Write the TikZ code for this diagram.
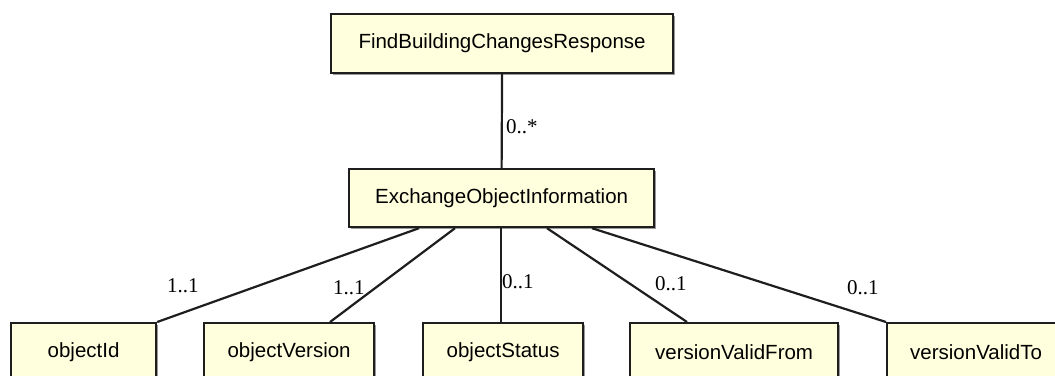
\documentclass[tikz,border=0pt]{standalone}
\usepackage{fontspec}
\setmainfont{Liberation Serif}
\newfontfamily\boxfont{Liberation Sans}
\usetikzlibrary{shadows}
\definecolor{boxfill}{RGB}{255,255,221}
\definecolor{boxline}{RGB}{30,30,30}
\tikzset{
  cls/.style={draw=boxline, line width=2.2pt, fill=boxfill, anchor=north west,
    inner sep=0pt, font=\boxfont\fontsize{20.5}{24}\selectfont,
    drop shadow={shadow xshift=1.6pt, shadow yshift=-1.6pt, fill=black!40, opacity=1}},
  conn/.style={draw=boxline, line width=2.2pt},
  mult/.style={anchor=west, inner sep=0pt, font=\fontsize{21}{24}\selectfont}
}
\begin{document}
\begin{tikzpicture}[x=1pt,y=-1pt]
\useasboundingbox (0,0) rectangle (1055,375);
\clip (0,0) rectangle (1055,375);
\node[cls, minimum width=342pt, minimum height=59pt] (top) at (330,13) {FindBuildingChangesResponse};
\node[cls, minimum width=305pt, minimum height=58pt] (mid) at (348,168) {ExchangeObjectInformation};
\node[cls, minimum width=145pt, minimum height=58pt] (c1) at (10,322) {objectId};
\node[cls, minimum width=170pt, minimum height=58pt] (c2) at (203,322) {objectVersion};
\node[cls, minimum width=160pt, minimum height=58pt] (c3) at (422,322) {objectStatus};
\node[cls, minimum width=208pt, minimum height=58pt] (c4) at (629,322) {versionValidFrom};
\node[cls, minimum width=178pt, minimum height=58pt] (c5) at (886,322) {versionValidTo};

\draw[conn] (top.south) -- (mid.north);
\draw[conn] ([xshift=71pt]mid.south west) -- (c1.north east);
\draw[conn] ([xshift=107pt]mid.south west) -- ([xshift=127pt]c2.north west);
\draw[conn] ([xshift=153pt]mid.south west) -- ([xshift=79pt]c3.north west);
\draw[conn] ([xshift=199pt]mid.south west) -- ([xshift=58pt]c4.north west);
\draw[conn] ([xshift=244pt]mid.south west) -- (c5.north west);

\node[mult] (m0) at (506,127) {0..*};
\node[mult] (m1) at (167,286) {1..1};
\node[mult] (m2) at (333,288) {1..1};
\node[mult] (m3) at (502,282) {0..1};
\node[mult] (m4) at (655,284) {0..1};
\node[mult] (m5) at (847,288) {0..1};
\end{tikzpicture}
\end{document}
